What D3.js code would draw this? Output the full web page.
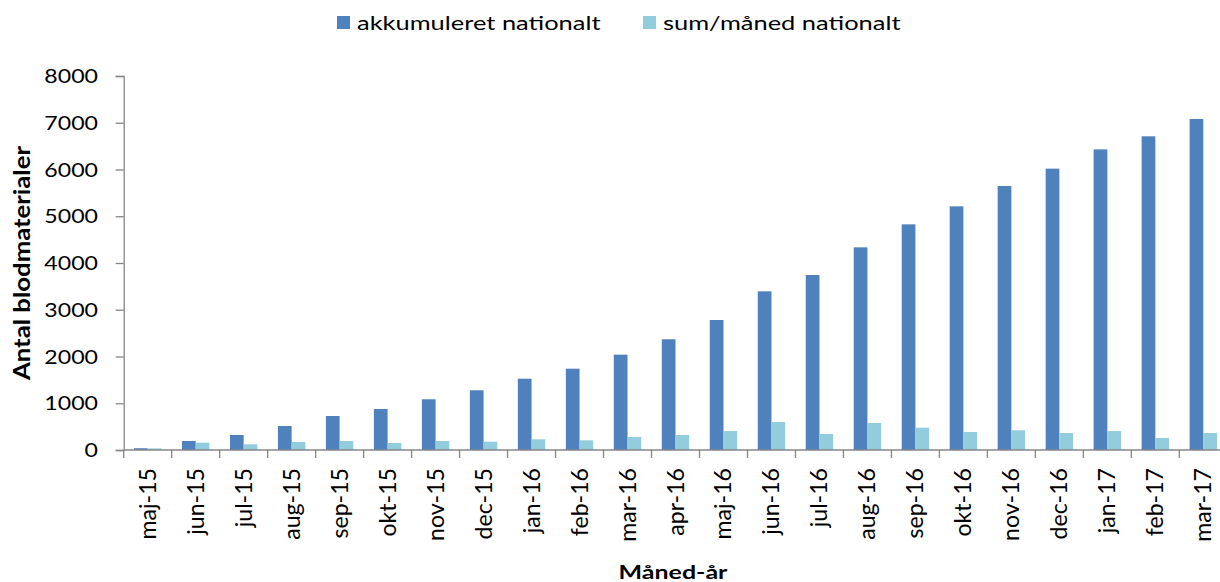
<!DOCTYPE html>
<html>
<head>
<meta charset="utf-8">
<script src="https://cdn.jsdelivr.net/npm/d3@7/dist/d3.min.js"></script>
<style>
  html, body { margin: 0; padding: 0; background: #ffffff; }
  svg { display: block; }
</style>
</head>
<body>
<div id="chart"></div>
<script>

//--------------------------------------
// DATA
//--------------------------------------

const months = ["maj-15", "jun-15", "jul-15", "aug-15", "sep-15", "okt-15", "nov-15", "dec-15",
  "jan-16", "feb-16", "mar-16", "apr-16", "maj-16", "jun-16", "jul-16", "aug-16",
  "sep-16", "okt-16", "nov-16", "dec-16", "jan-17", "feb-17", "mar-17"];

const akkumuleret = [38, 193, 321, 513, 727, 877, 1085, 1277,
  1525, 1739, 2039, 2368, 2781, 3394, 3743, 4335,
  4827, 5212, 5647, 6018, 6431, 6710, 7080];

const sumMaaned = [35, 156, 122, 171, 193, 150, 193, 178,
  229, 207, 278, 321, 406, 599, 342, 578,
  477, 385, 421, 364, 406, 257, 364];

const seriesNames = ["akkumuleret nationalt", "sum/måned nationalt"];
const seriesColors = ["#4F81BD", "#93CDDD"];
const yTicks = [0, 1000, 2000, 3000, 4000, 5000, 6000, 7000, 8000];


//--------------------------------------
// SETUP
//--------------------------------------

const W = 1220, H = 582;
const fontFamily = "Lato, 'Open Sans', sans-serif";
const fontSize = 18.5;
const axisColor = "#868686";

const plot = { left: 123.7, right: 1227.3, top: 76, bottom: 450 };

const svg = d3.select("#chart").append("svg")
  .attr("width", W)
  .attr("height", H);

const x = d3.scaleBand()
  .domain(months)
  .range([plot.left, plot.right])
  .paddingInner(0)
  .paddingOuter(0);

const xSeries = d3.scaleBand()
  .domain(seriesNames)
  .range([0, x.bandwidth()])
  .paddingInner(0)
  .paddingOuter(0.75);

const y = d3.scaleLinear()
  .domain([0, 8000])
  .range([plot.bottom, plot.top]);


//--------------------------------------
// BARS
//--------------------------------------

const rows = months.map(function (m, i) {
  return { month: m, values: [akkumuleret[i], sumMaaned[i]] };
});

const groups = svg.append("g").selectAll("g")
  .data(rows)
  .join("g")
  .attr("transform", function (d) { return "translate(" + x(d.month) + ",0)"; });

groups.selectAll("rect")
  .data(function (d) {
    return d.values.map(function (v, k) { return { name: seriesNames[k], value: v, k: k }; });
  })
  .join("rect")
  .attr("x", function (d) { return xSeries(d.name); })
  .attr("y", function (d) { return y(d.value); })
  .attr("width", xSeries.bandwidth())
  .attr("height", function (d) { return y(0) - y(d.value); })
  .attr("fill", function (d) { return seriesColors[d.k]; });


//--------------------------------------
// AXES
//--------------------------------------

const yAxis = svg.append("g")
  .attr("transform", "translate(" + plot.left + ",0)")
  .call(d3.axisLeft(y).tickValues(yTicks).tickSize(8).tickFormat(d3.format("d")));

yAxis.select(".domain").attr("stroke", axisColor).attr("stroke-width", 1.3);
yAxis.selectAll(".tick line").attr("stroke", axisColor).attr("stroke-width", 1.3);

// labels end at x = 98 on the page
yAxis.selectAll(".tick text")
  .attr("font-family", fontFamily)
  .attr("font-size", fontSize)
  .attr("fill", "#000")
  .attr("text-anchor", "end")
  .attr("x", null)
  .attr("dy", null)
  .attr("transform", "translate(" + (98 - plot.left) + ",6.6) scale(1.25,1)");

// x axis: Excel style ticks between categories
const xBoundaries = months.map(function (m) { return x(m); }).concat([plot.right]);

const xAxis = svg.append("g");

xAxis.append("line")
  .attr("x1", plot.left).attr("x2", plot.right)
  .attr("y1", plot.bottom).attr("y2", plot.bottom)
  .attr("stroke", axisColor)
  .attr("stroke-width", 1.3);

xAxis.selectAll("line.tick")
  .data(xBoundaries)
  .join("line")
  .attr("class", "tick")
  .attr("x1", function (d) { return d; }).attr("x2", function (d) { return d; })
  .attr("y1", plot.bottom).attr("y2", plot.bottom + 8)
  .attr("stroke", axisColor)
  .attr("stroke-width", 1.3);

xAxis.selectAll("text")
  .data(months)
  .join("text")
  .attr("transform", function (d) {
    let cx = x(d) + x.bandwidth() / 2 + 8;
    return "translate(" + cx + ",468) scale(1.25,1.25) rotate(-90)";
  })
  .attr("text-anchor", "end")
  .attr("font-family", fontFamily)
  .attr("font-size", fontSize)
  .attr("fill", "#000")
  .text(function (d) { return d; });


//--------------------------------------
// TITLES
//--------------------------------------

svg.append("text")
  .attr("transform", "translate(30,263) scale(1.25,1.39) rotate(-90)")
  .attr("text-anchor", "middle")
  .attr("font-family", fontFamily)
  .attr("font-weight", "bold")
  .attr("font-size", fontSize)
  .attr("fill", "#000")
  .text("Antal blodmaterialer");

svg.append("text")
  .attr("transform", "translate(673,579) scale(1.35,1)")
  .attr("text-anchor", "middle")
  .attr("font-family", fontFamily)
  .attr("font-weight", "bold")
  .attr("font-size", fontSize)
  .attr("fill", "#000")
  .text("Måned-år");


//--------------------------------------
// LEGEND
//--------------------------------------

const legendX = [337, 643];

const legend = svg.append("g").selectAll("g")
  .data(seriesNames)
  .join("g")
  .attr("transform", function (d, i) { return "translate(" + legendX[i] + ",0)"; });

legend.append("rect")
  .attr("x", 0)
  .attr("y", 16)
  .attr("width", 13)
  .attr("height", 13)
  .attr("fill", function (d, i) { return seriesColors[i]; });

legend.append("text")
  .attr("transform", "translate(20,30) scale(1.375,1)")
  .attr("font-family", fontFamily)
  .attr("font-size", fontSize)
  .attr("fill", "#000")
  .text(function (d) { return d; });

</script>
</body>
</html>
